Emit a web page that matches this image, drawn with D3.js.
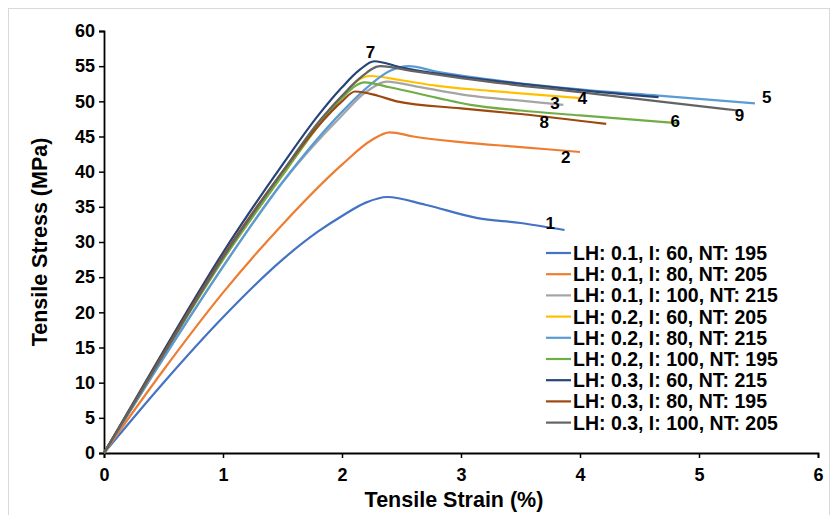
<!DOCTYPE html>
<html>
<head>
<meta charset="utf-8">
<script src="https://cdn.jsdelivr.net/npm/d3@7"></script>
<style>
  body { margin: 0; background: #fff; }
  text { font-family: Arial, "Liberation Sans", sans-serif; font-weight: bold; }
</style>
</head>
<body>
<div id="chart"></div>
<script>
// series names (legend order)
var series_names = [
    "LH: 0.1, I: 60, NT: 195",
    "LH: 0.1, I: 80, NT: 205",
    "LH: 0.1, I: 100, NT: 215",
    "LH: 0.2, I: 60, NT: 205",
    "LH: 0.2, I: 80, NT: 215",
    "LH: 0.2, I: 100, NT: 195",
    "LH: 0.3, I: 60, NT: 215",
    "LH: 0.3, I: 80, NT: 195",
    "LH: 0.3, I: 100, NT: 205"
];
var series_colors = ["#4472C4", "#ED7D31", "#A5A5A5", "#FFC000", "#5B9BD5",
    "#70AD47", "#264478", "#9E480E", "#636363"];

// strain (%) and stress (MPa)
var strain_1 = [0, 0.5, 1, 1.5, 1.8, 2, 2.2, 2.38, 2.7, 3.14, 3.5, 3.87];
var stress_1 = [0, 10, 19.3, 27.5, 31.5, 33.7, 35.6, 36.4, 35.3, 33.4, 32.7, 31.7];
var strain_2 = [0, 0.5, 1, 1.5, 2, 2.25, 2.4, 2.6, 3, 3.5, 4.0];
var stress_2 = [0, 11.8, 22.8, 32.5, 41, 44.5, 45.6, 45, 44.2, 43.5, 42.8];
var strain_3 = [0, 0.5, 1, 1.5, 2, 2.2, 2.38, 2.6, 3, 3.24, 3.5, 3.86];
var stress_3 = [0, 13.5, 26.5, 38.5, 48, 51.3, 52.8, 52.2, 51, 50.5, 50.1, 49.5];
var strain_4 = [0, 0.5, 1, 1.5, 1.8, 2, 2.12, 2.24, 2.5, 2.8, 3.24, 4.0];
var stress_4 = [0, 14, 27.5, 39.5, 46.5, 50.5, 52.8, 53.6, 53, 52.2, 51.5, 50.45];
var strain_5 = [0, 0.5, 1, 1.5, 2, 2.2, 2.4, 2.56, 2.8, 3.2, 4, 4.66, 5.47];
var stress_5 = [0, 13.5, 26.5, 38.5, 48.5, 51.8, 54.3, 55, 54.2, 53.2, 51.7, 50.8, 49.7];
var strain_6 = [0, 0.5, 1, 1.5, 1.8, 2, 2.19, 2.4, 2.8, 3.08, 3.5, 4, 4.82];
var stress_6 = [0, 14, 27.5, 39.5, 46.5, 50.5, 52.7, 52, 50.5, 49.5, 48.7, 48, 46.9];
var strain_7 = [0, 0.5, 1, 1.5, 1.8, 2, 2.15, 2.27, 2.5, 3, 3.5, 4, 4.66];
var stress_7 = [0, 14.5, 28.5, 41, 48, 52, 54.5, 55.7, 54.8, 53.5, 52.5, 51.6, 50.6];
var strain_8 = [0, 0.5, 1, 1.5, 1.8, 2, 2.11, 2.3, 2.46, 3, 3.5, 4.22];
var stress_8 = [0, 14.2, 28, 40, 46.5, 50, 51.4, 50.8, 50, 49, 48.2, 46.8];
var strain_9 = [0, 0.5, 1, 1.5, 1.8, 2, 2.15, 2.32, 2.6, 3, 4, 4.66, 5.33];
var stress_9 = [0, 14, 27.8, 40, 47, 50.8, 53.3, 55, 54.3, 53.3, 51.3, 50, 48.7];

// number labels beside the curves: [strain, stress]
var label_text = ["1", "2", "3", "4", "5", "6", "7", "8", "9"];
var label_strain = [3.75, 3.88, 3.79, 4.02, 5.57, 4.8, 2.24, 3.7, 5.34];
var label_stress = [31.8, 41.3, 48.9, 49.6, 49.8, 46.3, 56.2, 46.2, 47.2];

var x_ticks = [0, 1, 2, 3, 4, 5, 6];
var y_ticks = [0, 5, 10, 15, 20, 25, 30, 35, 40, 45, 50, 55, 60];

var strains = [strain_1, strain_2, strain_3, strain_4, strain_5, strain_6, strain_7, strain_8, strain_9];
var stresses = [stress_1, stress_2, stress_3, stress_4, stress_5, stress_6, stress_7, stress_8, stress_9];

var width = 838, height = 515;
var margin = { left: 104, right: 20, top: 31, bottom: 62 };

var svg = d3.select("#chart").append("svg")
    .attr("width", width)
    .attr("height", height);

// light frame round the chart area
svg.append("rect")
    .attr("x", 8.5).attr("y", 8.5)
    .attr("width", 821).attr("height", 520)
    .attr("fill", "none")
    .attr("stroke", "#d9d9d9")
    .attr("stroke-width", 1);

var x = d3.scaleLinear().domain([0, 6]).range([margin.left, width - margin.right]);
var y = d3.scaleLinear().domain([0, 60]).range([height - margin.bottom, margin.top]);

var xAxis = svg.append("g")
    .attr("transform", "translate(0," + y(0) + ")")
    .call(d3.axisBottom(x).tickValues(x_ticks).tickSize(5).tickPadding(10).tickFormat(d3.format("d")));
var yAxis = svg.append("g")
    .attr("transform", "translate(" + x(0) + ",0)")
    .call(d3.axisLeft(y).tickValues(y_ticks).tickSize(5).tickPadding(4).tickFormat(d3.format("d")));

[xAxis, yAxis].forEach(function(g) {
    g.select(".domain").attr("stroke", "#000").attr("stroke-width", 1.8);
    g.selectAll(".tick line").attr("stroke", "#000").attr("stroke-width", 1.5);
    g.selectAll(".tick text")
        .attr("fill", "#000")
        .style("font-size", "18px")
        .style("font-family", "Arial, 'Liberation Sans', sans-serif")
        .style("font-weight", "bold");
});

svg.append("text")
    .attr("x", 454)
    .attr("y", 507)
    .attr("text-anchor", "middle")
    .style("font-size", "21.5px")
    .text("Tensile Strain (%)");

svg.append("text")
    .attr("transform", "translate(47," + (y(30)) + ") rotate(-90)")
    .attr("text-anchor", "middle")
    .style("font-size", "21.5px")
    .text("Tensile Stress (MPa)");

var line = d3.line()
    .x(function(d) { return x(d[0]); })
    .y(function(d) { return y(d[1]); })
    .curve(d3.curveMonotoneX);

for (var i = 0; i < strains.length; i++) {
    var pts = strains[i].map(function(s, k) { return [s, stresses[i][k]]; });
    svg.append("path")
        .datum(pts)
        .attr("fill", "none")
        .attr("stroke", series_colors[i])
        .attr("stroke-width", 2.2)
        .attr("stroke-linejoin", "round")
        .attr("d", line);
}

svg.append("g").selectAll("text")
    .data(label_text)
    .enter()
    .append("text")
    .attr("x", function(d, k) { return x(label_strain[k]); })
    .attr("y", function(d, k) { return y(label_stress[k]); })
    .attr("text-anchor", "middle")
    .style("font-size", "17px")
    .text(function(d) { return d; });

// legend
var legend = svg.append("g").attr("transform", "translate(546,253)");
var rows = legend.selectAll("g")
    .data(series_names)
    .enter()
    .append("g")
    .attr("transform", function(d, k) { return "translate(0," + (k * 21.2) + ")"; });
rows.append("line")
    .attr("x1", 0).attr("x2", 25)
    .attr("y1", 0).attr("y2", 0)
    .attr("stroke", function(d, k) { return series_colors[k]; })
    .attr("stroke-width", 2.2);
rows.append("text")
    .attr("x", 27)
    .attr("y", 7)
    .style("font-size", "19.5px")
    .text(function(d) { return d; });
</script>
</body>
</html>
